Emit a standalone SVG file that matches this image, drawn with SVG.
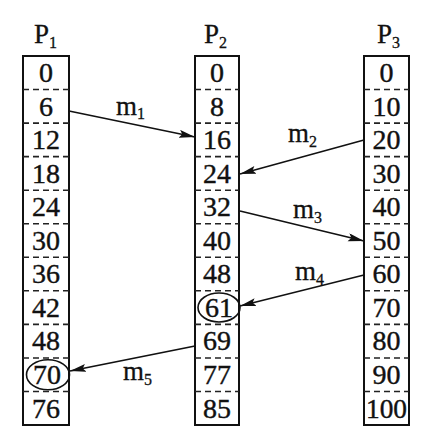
<svg xmlns="http://www.w3.org/2000/svg" width="442" height="446" viewBox="0 0 442 446">
<defs>
<style>
.box{fill:none;stroke:#111;stroke-width:2}
.div{stroke:#222;stroke-width:1.6;stroke-dasharray:6 4}
.num{font-family:"Liberation Serif","Times New Roman",serif;font-size:28px;fill:#111;stroke:#111;stroke-width:0.4;text-anchor:middle}
.lbl{font-family:"Liberation Serif","Times New Roman",serif;font-size:27px;fill:#111;stroke:#111;stroke-width:0.3}
.sub{font-size:16px}
.msg{stroke:#111;stroke-width:1.6;fill:none}
.ring{fill:none;stroke:#111;stroke-width:1.6}
</style>
<marker id="ah" markerUnits="userSpaceOnUse" markerWidth="18" markerHeight="10" refX="16" refY="4" orient="auto">
<path d="M0,0 L16,4 L0,8 L3,4 Z" fill="#111"/>
</marker>
</defs>

<g id="P1">
<text class="lbl" x="34" y="43">P<tspan class="sub" dy="5">1</tspan></text>
<rect class="box" x="23" y="56" width="46" height="369"/>
<line class="div" x1="23" y1="89.5" x2="69" y2="89.5"/>
<line class="div" x1="23" y1="123.1" x2="69" y2="123.1"/>
<line class="div" x1="23" y1="156.6" x2="69" y2="156.6"/>
<line class="div" x1="23" y1="190.2" x2="69" y2="190.2"/>
<line class="div" x1="23" y1="223.7" x2="69" y2="223.7"/>
<line class="div" x1="23" y1="257.3" x2="69" y2="257.3"/>
<line class="div" x1="23" y1="290.8" x2="69" y2="290.8"/>
<line class="div" x1="23" y1="324.4" x2="69" y2="324.4"/>
<line class="div" x1="23" y1="358" x2="69" y2="358"/>
<line class="div" x1="23" y1="391.5" x2="69" y2="391.5"/>
<text class="num" x="46" y="82">0</text>
<text class="num" x="46" y="115.5">6</text>
<text class="num" x="46" y="149.1">12</text>
<text class="num" x="46" y="182.6">18</text>
<text class="num" x="46" y="216.2">24</text>
<text class="num" x="46" y="249.7">30</text>
<text class="num" x="46" y="283.3">36</text>
<text class="num" x="46" y="316.8">42</text>
<text class="num" x="46" y="350.4">48</text>
<text class="num" x="47" y="383.9">70</text>
<text class="num" x="46" y="417.5">76</text>
<ellipse class="ring" cx="48" cy="374.7" rx="21.5" ry="15"/>
</g>

<g id="P2">
<text class="lbl" x="204" y="43">P<tspan class="sub" dy="5">2</tspan></text>
<rect class="box" x="195" y="56" width="44" height="369"/>
<line class="div" x1="195" y1="89.5" x2="239" y2="89.5"/>
<line class="div" x1="195" y1="123.1" x2="239" y2="123.1"/>
<line class="div" x1="195" y1="156.6" x2="239" y2="156.6"/>
<line class="div" x1="195" y1="190.2" x2="239" y2="190.2"/>
<line class="div" x1="195" y1="223.7" x2="239" y2="223.7"/>
<line class="div" x1="195" y1="257.3" x2="239" y2="257.3"/>
<line class="div" x1="195" y1="290.8" x2="239" y2="290.8"/>
<line class="div" x1="195" y1="324.4" x2="239" y2="324.4"/>
<line class="div" x1="195" y1="358" x2="239" y2="358"/>
<line class="div" x1="195" y1="391.5" x2="239" y2="391.5"/>
<text class="num" x="217" y="82">0</text>
<text class="num" x="217" y="115.5">8</text>
<text class="num" x="217" y="149.1">16</text>
<text class="num" x="217" y="182.6">24</text>
<text class="num" x="217" y="216.2">32</text>
<text class="num" x="217" y="249.7">40</text>
<text class="num" x="217" y="283.3">48</text>
<text class="num" x="219" y="316.8">61</text>
<text class="num" x="217" y="350.4">69</text>
<text class="num" x="217" y="383.9">77</text>
<text class="num" x="217" y="417.5">85</text>
<ellipse class="ring" cx="219" cy="307.5" rx="21" ry="14.5"/>
</g>

<g id="P3">
<text class="lbl" x="377" y="43">P<tspan class="sub" dy="5">3</tspan></text>
<rect class="box" x="364" y="56" width="45" height="369"/>
<line class="div" x1="364" y1="89.5" x2="409" y2="89.5"/>
<line class="div" x1="364" y1="123.1" x2="409" y2="123.1"/>
<line class="div" x1="364" y1="156.6" x2="409" y2="156.6"/>
<line class="div" x1="364" y1="190.2" x2="409" y2="190.2"/>
<line class="div" x1="364" y1="223.7" x2="409" y2="223.7"/>
<line class="div" x1="364" y1="257.3" x2="409" y2="257.3"/>
<line class="div" x1="364" y1="290.8" x2="409" y2="290.8"/>
<line class="div" x1="364" y1="324.4" x2="409" y2="324.4"/>
<line class="div" x1="364" y1="358" x2="409" y2="358"/>
<line class="div" x1="364" y1="391.5" x2="409" y2="391.5"/>
<text class="num" x="386.5" y="82">0</text>
<text class="num" x="386.5" y="115.5">10</text>
<text class="num" x="386.5" y="149.1">20</text>
<text class="num" x="386.5" y="182.6">30</text>
<text class="num" x="386.5" y="216.2">40</text>
<text class="num" x="386.5" y="249.7">50</text>
<text class="num" x="386.5" y="283.3">60</text>
<text class="num" x="386.5" y="316.8">70</text>
<text class="num" x="386.5" y="350.4">80</text>
<text class="num" x="386.5" y="383.9">90</text>
<text class="num" x="386.5" y="417.5" textLength="41" lengthAdjust="spacingAndGlyphs">100</text>
</g>

<g id="connectors">
<line class="msg" x1="69" y1="111" x2="195" y2="137" marker-end="url(#ah)"/>
<line class="msg" x1="364" y1="140" x2="240" y2="174" marker-end="url(#ah)"/>
<line class="msg" x1="240" y1="211" x2="364" y2="241" marker-end="url(#ah)"/>
<line class="msg" x1="364" y1="275" x2="240" y2="306" marker-end="url(#ah)"/>
<line class="msg" x1="195" y1="346" x2="70" y2="371" marker-end="url(#ah)"/>
<text class="lbl" x="116" y="115">m<tspan class="sub" dy="4">1</tspan></text>
<text class="lbl" x="288" y="142">m<tspan class="sub" dy="5">2</tspan></text>
<text class="lbl" x="293" y="218">m<tspan class="sub" dy="5">3</tspan></text>
<text class="lbl" x="295" y="280">m<tspan class="sub" dy="5">4</tspan></text>
<text class="lbl" x="123" y="380">m<tspan class="sub" dy="5">5</tspan></text>
</g>
</svg>
